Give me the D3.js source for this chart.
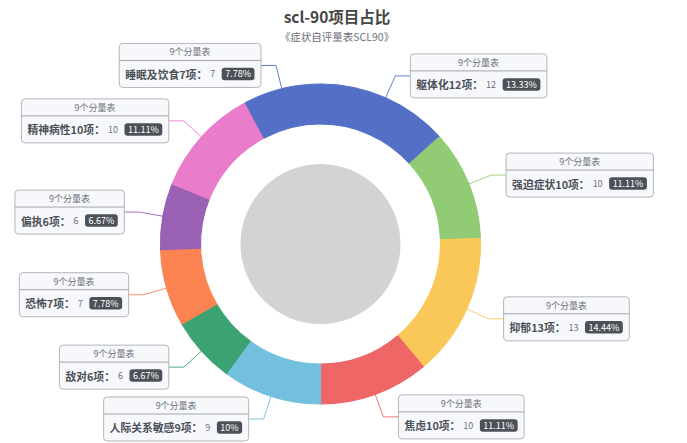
<!DOCTYPE html>
<html><head><meta charset="utf-8">
<script src="https://cdn.jsdelivr.net/npm/d3@7"></script>
<style>body{margin:0;background:#fff}svg{display:block}</style>
</head><body>
<svg id="c" width="687" height="443"></svg>
<script>
const categories = ["躯体化12项","强迫症状10项","抑郁13项","焦虑10项","人际关系敏感9项","敌对6项","恐怖7项","偏执6项","精神病性10项","睡眠及饮食7项"];
const values = [12,10,13,10,9,6,7,6,10,7];
const colors = ["#5470c6","#91cc75","#fac858","#ee6666","#73c0de","#3ba272","#fc8452","#9a60b4","#ea7ccc","#5470c6"];
const seriesName = "9个分量表";
const titleText = "scl-90项目占比";
const subtitleText = "《症状自评量表SCL90》";

const FONT = '"Noto Sans CJK SC","Noto Sans",sans-serif';
const svg = d3.select("#c");
const cx = 320.5, cy = 244, R = 160, r0 = 120, rc = 80, L1 = 24, L2 = 15;
const total = d3.sum(values);
const data = categories.map((c,i)=>({name:c, value:values[i], color:colors[i]}));

// title
svg.append("text").attr("x",337).attr("y",22.5).attr("text-anchor","middle")
  .attr("font-family",FONT).attr("font-size",15.5).attr("font-weight","bold").attr("fill","#464646").text(titleText);
svg.append("text").attr("x",337).attr("y",40.5).attr("text-anchor","middle")
  .attr("font-family",FONT).attr("font-size",10.5).attr("fill","#6E7079").text(subtitleText);

const g = svg.append("g").attr("transform",`translate(${cx},${cy})`);
g.append("circle").attr("r",rc).attr("fill","#d3d3d3");
const pie = d3.pie().sort(null).value(d=>d.value);
const arcs = pie(data);
const arc = d3.arc().innerRadius(r0).outerRadius(R);
g.selectAll("path.slice").data(arcs).join("path").attr("class","slice")
  .attr("d",arc).attr("fill",d=>d.data.color)
  .attr("stroke",d=>d.data.color).attr("stroke-width",1.2).attr("stroke-linejoin","round");

const fmtPct = v => String(parseFloat((v/total*100).toFixed(2))) + "%";

const lines = svg.append("g");
const boxes = svg.append("g");
arcs.forEach(d=>{
  const mid = (d.startAngle+d.endAngle)/2;
  const right = mid < Math.PI;
  const s = Math.sin(mid), c = Math.cos(mid);
  const p0 = [cx + R*s, cy - R*c];
  const p1 = [cx + (R+L1)*s, cy - (R+L1)*c];
  const p2 = [p1[0] + (right?L2:-L2), p1[1]];
  lines.append("polyline").attr("points",[p0,p1,p2].map(p=>p.join(",")).join(" "))
    .attr("fill","none").attr("stroke",d.data.color).attr("stroke-width",0.9);

  const bg = boxes.append("g");
  const rect = bg.append("rect");
  const hr = bg.append("line");
  const head = bg.append("text").attr("font-family",FONT).attr("font-size",9).attr("fill","#6E7079")
    .attr("text-anchor","middle").attr("dominant-baseline","central").text(seriesName);
  const nm = bg.append("text").attr("font-family",FONT).attr("font-size",10.8).attr("font-weight","bold")
    .attr("fill","#4C5058").attr("dominant-baseline","central").text(d.data.name + "：");
  const vl = bg.append("text").attr("font-family",FONT).attr("font-size",9).attr("fill","#6E7079")
    .attr("dominant-baseline","central").text(d.data.value);
  const badge = bg.append("rect");
  const pc = bg.append("text").attr("font-family",FONT).attr("font-size",9).attr("fill","#fff")
    .attr("dominant-baseline","central").text(fmtPct(d.data.value));
  const nw = nm.node().getComputedTextLength() - 4;
  const vw = vl.node().getComputedTextLength();
  const pw = pc.node().getComputedTextLength();
  const bw = pw + 7;
  const boxW = 6 + nw + 7 + vw + 6.5 + bw + 6.5;
  const x0 = right ? p2[0] : p2[0] - boxW;
  const top = p1[1] - 22;
  const rowY = top + 17 + 13.5;
  rect.attr("x",x0).attr("y",top).attr("width",boxW).attr("height",44).attr("rx",3.5)
    .attr("fill","#F6F8FC").attr("stroke","#b4b6b9").attr("stroke-width",1);
  hr.attr("x1",x0).attr("x2",x0+boxW).attr("y1",top+17).attr("y2",top+17)
    .attr("stroke","#a3a5a8").attr("stroke-width",1);
  head.attr("x",x0+boxW/2).attr("y",top+8.5);
  nm.attr("x",x0+6).attr("y",rowY);
  vl.attr("x",x0+6+nw+7).attr("y",rowY);
  const bx = x0+6+nw+7+vw+6.5;
  badge.attr("x",bx).attr("y",rowY-6.25).attr("width",bw).attr("height",12.5).attr("rx",3).attr("fill","#4C5058");
  pc.attr("x",bx+3.5).attr("y",rowY);
});
</script>
</body></html>
